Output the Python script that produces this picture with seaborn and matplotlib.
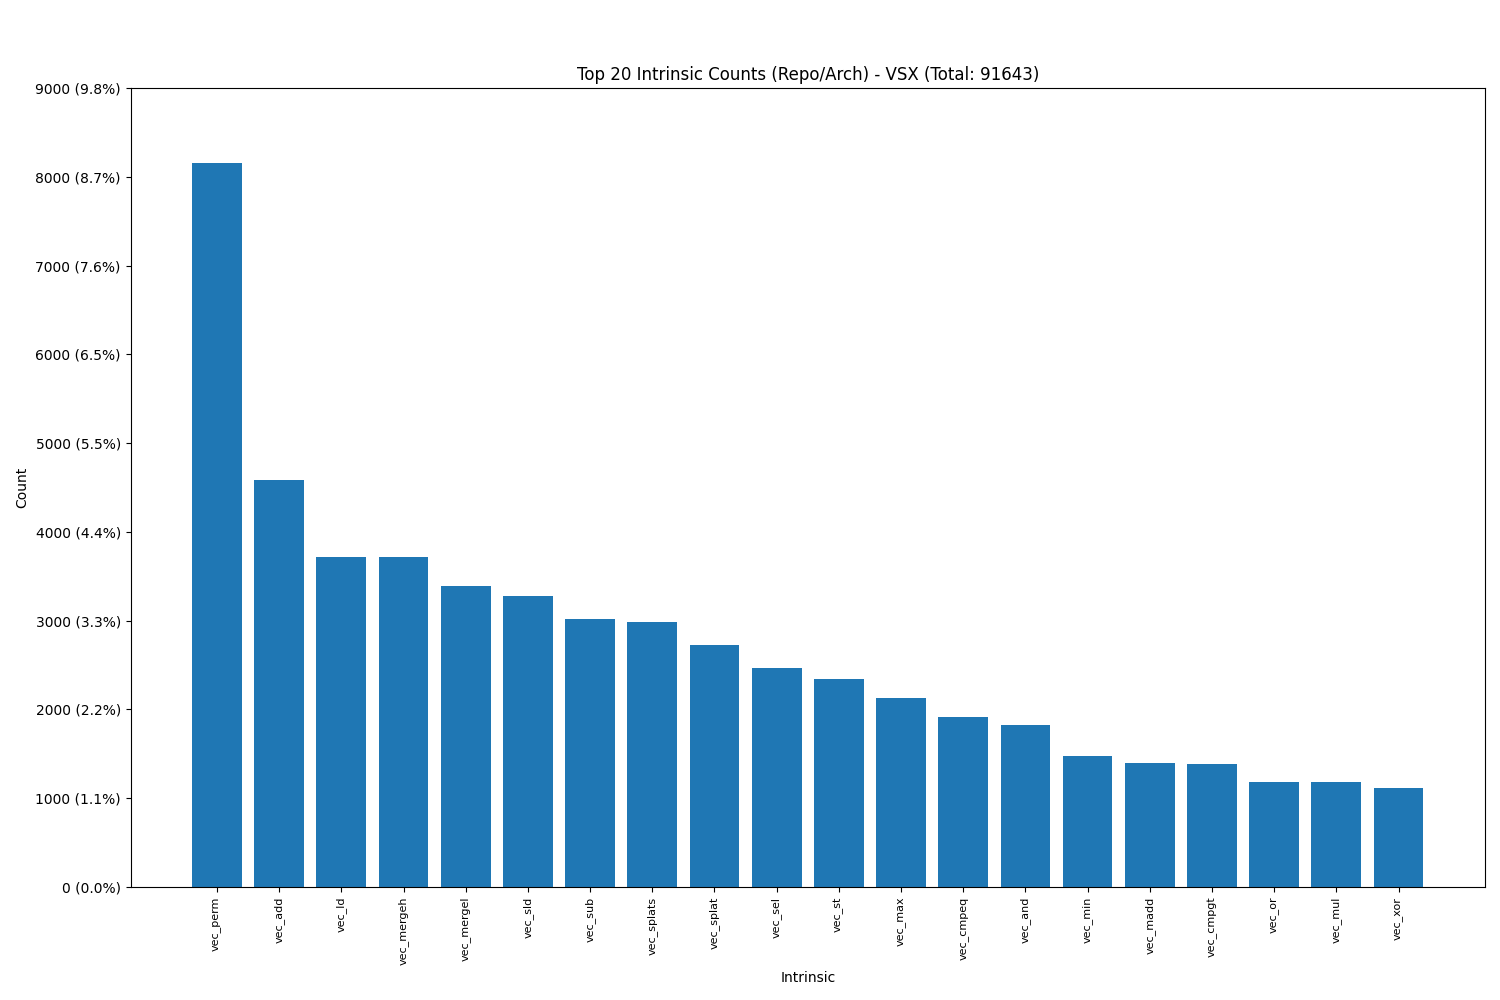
import matplotlib
matplotlib.use("Agg")
import matplotlib.pyplot as plt
import pandas as pd
import seaborn as sns

TOTAL = 91643
intrinsics = [
    "vec_perm", "vec_add", "vec_ld", "vec_mergeh", "vec_mergel", "vec_sld",
    "vec_sub", "vec_splats", "vec_splat", "vec_sel", "vec_st", "vec_max",
    "vec_cmpeq", "vec_and", "vec_min", "vec_madd", "vec_cmpgt", "vec_or",
    "vec_mul", "vec_xor",
]
counts = [
    8155, 4584, 3717, 3715, 3390, 3278, 3019, 2985, 2726, 2467,
    2343, 2129, 1915, 1825, 1476, 1397, 1385, 1183, 1182, 1115,
]

df = pd.DataFrame({"Intrinsic": intrinsics, "Count": counts})

fig, ax = plt.subplots(figsize=(15, 10), dpi=100)
sns.barplot(data=df, x="Intrinsic", y="Count", color="#1f77b4",
            saturation=1, width=0.8, ax=ax)

ax.set_xlim(-1.39, len(intrinsics) - 1 + 1.39)
ax.set_ylim(0, 9000)
yticks = list(range(0, 9001, 1000))
ax.set_yticks(yticks)
ax.set_yticklabels([f"{t} ({t / TOTAL * 100:.1f}%)" for t in yticks])
ax.tick_params(axis="x", labelrotation=90, labelsize=8)
ax.set_xlabel("Intrinsic")
ax.set_ylabel("Count")
ax.set_title(f"Top 20 Intrinsic Counts (Repo/Arch) - VSX (Total: {TOTAL})")

plt.subplots_adjust(left=0.087, right=0.99, top=0.912, bottom=0.113)
plt.savefig("out.png", dpi=100)
